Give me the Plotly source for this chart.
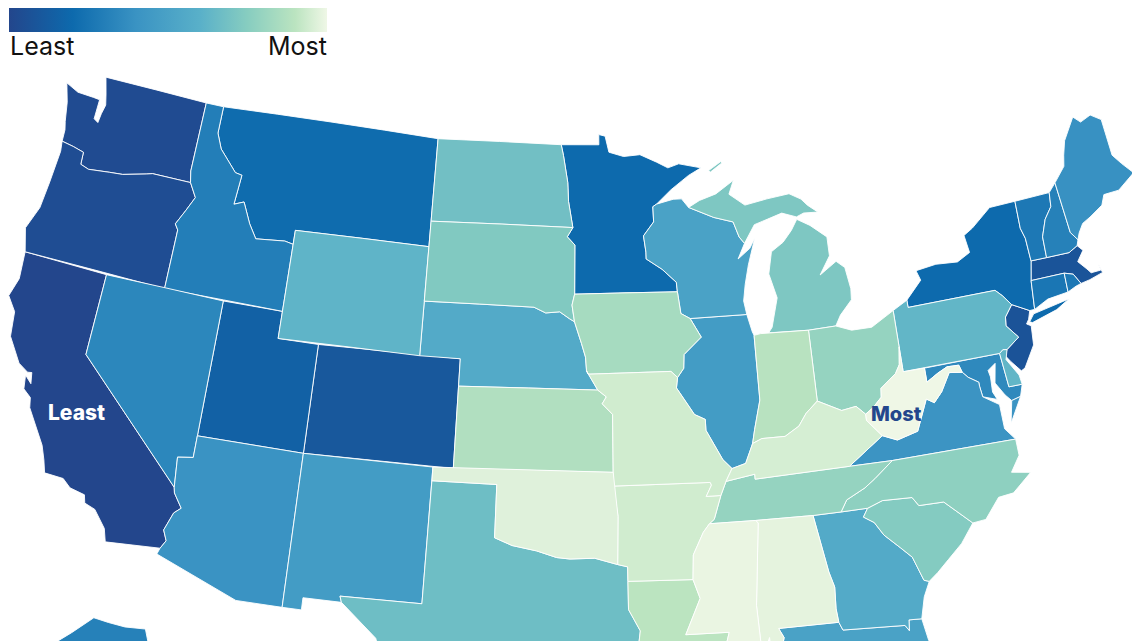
import plotly.graph_objects as go
from plotly.colors import sample_colorscale

# state outlines in lon/lat, no boundary files available offline
WA = [(-124.73,48.38),(-124.0,48.17),(-123.1,48.15),(-122.75,48.13),(-122.75,47.4),(-122.5,47.3),(-122.45,47.65),(-122.35,48.0),(-122.5,48.4),(-122.76,49.0),(-117.03,49.0),(-117.04,46.42),(-116.92,46.0),(-118.98,46.0),(-119.3,45.93),(-120.5,45.7),(-121.2,45.65),(-122.3,45.55),(-122.76,45.65),(-122.8,46.1),(-123.4,46.2),(-124.05,46.27),(-124.08,46.7),(-124.2,47.0),(-124.4,47.7)]
OR = [(-124.05,46.27),(-123.4,46.2),(-122.8,46.1),(-122.76,45.65),(-122.3,45.55),(-121.2,45.65),(-120.5,45.7),(-119.3,45.93),(-118.98,46.0),(-116.92,46.0),(-116.5,45.5),(-116.85,44.95),(-117.22,44.4),(-117.03,44.2),(-117.03,42.0),(-124.21,42.0),(-124.55,42.84),(-124.15,43.7),(-124.05,44.7),(-123.97,45.9)]
CA = [(-124.21,42.0),(-120.0,42.0),(-120.0,39.0),(-114.63,35.0),(-114.57,34.8),(-114.14,34.3),(-114.43,34.08),(-114.72,33.4),(-114.52,33.03),(-114.72,32.72),(-117.13,32.53),(-117.3,33.0),(-117.9,33.6),(-118.4,33.74),(-118.5,34.03),(-119.2,34.15),(-119.6,34.42),(-120.47,34.45),(-120.65,34.9),(-120.9,35.4),(-121.9,36.6),(-122.0,36.96),(-122.4,37.2),(-122.5,37.7),(-122.15,37.45),(-122.25,37.85),(-122.45,37.82),(-122.95,38.05),(-123.7,38.9),(-123.85,39.8),(-124.35,40.3),(-124.1,41.0)]
NV = [(-120.0,42.0),(-114.04,42.0),(-114.04,36.2),(-114.75,36.1),(-114.63,35.0),(-120.0,39.0)]
ID = [(-117.03,49.0),(-116.05,49.0),(-116.05,48.0),(-115.7,47.45),(-114.7,46.7),(-114.33,46.65),(-114.45,45.55),(-113.95,45.7),(-113.45,44.95),(-113.0,44.45),(-111.5,44.55),(-111.05,44.48),(-111.05,42.0),(-117.03,42.0),(-117.03,44.2),(-117.22,44.4),(-116.85,44.95),(-116.5,45.5),(-116.92,46.0),(-117.04,46.42)]
MT = [(-116.05,49.0),(-104.05,49.0),(-104.05,45.0),(-111.05,45.0),(-111.05,44.48),(-111.5,44.55),(-113.0,44.45),(-113.45,44.95),(-113.95,45.7),(-114.45,45.55),(-114.33,46.65),(-114.7,46.7),(-115.7,47.45),(-116.05,48.0)]
WY = [(-111.05,45.0),(-104.05,45.0),(-104.05,41.0),(-111.05,41.0)]
UT = [(-114.04,42.0),(-111.05,42.0),(-111.05,41.0),(-109.05,41.0),(-109.05,37.0),(-114.04,37.0)]
CO = [(-109.05,41.0),(-102.05,41.0),(-102.05,37.0),(-109.05,37.0)]
AZ = [(-114.04,37.0),(-109.05,37.0),(-109.05,31.33),(-111.07,31.33),(-114.81,32.49),(-114.72,32.72),(-114.52,33.03),(-114.72,33.4),(-114.43,34.08),(-114.14,34.3),(-114.57,34.8),(-114.63,35.0),(-114.75,36.1),(-114.04,36.2)]
NM = [(-109.05,37.0),(-103.0,37.0),(-103.04,32.0),(-106.62,32.0),(-106.53,31.78),(-108.21,31.78),(-108.21,31.33),(-109.05,31.33)]
ND = [(-104.05,49.0),(-97.23,49.0),(-97.1,48.6),(-96.85,47.6),(-96.8,46.9),(-96.56,45.94),(-104.05,45.94)]
SD = [(-104.05,45.94),(-96.56,45.94),(-96.85,45.6),(-96.45,45.3),(-96.45,43.5),(-96.58,43.1),(-96.45,42.49),(-96.7,42.6),(-97.2,42.85),(-97.9,42.8),(-98.5,43.0),(-104.05,43.0)]
NE = [(-104.05,43.0),(-98.5,43.0),(-97.9,42.8),(-97.2,42.85),(-96.7,42.6),(-96.45,42.49),(-96.1,41.7),(-95.9,41.2),(-95.85,40.7),(-95.31,40.0),(-102.05,40.0),(-102.05,41.0),(-104.05,41.0)]
KS = [(-102.05,40.0),(-95.31,40.0),(-94.9,39.75),(-95.1,39.5),(-94.61,39.11),(-94.62,37.0),(-102.05,37.0)]
OK = [(-103.0,37.0),(-94.62,37.0),(-94.43,35.4),(-94.48,33.64),(-95.5,33.88),(-96.6,33.85),(-97.2,33.9),(-98.1,34.13),(-99.2,34.3),(-100.0,34.56),(-100.0,36.5),(-103.0,36.5)]
TX = [(-103.0,36.5),(-100.0,36.5),(-100.0,34.56),(-99.2,34.3),(-98.1,34.13),(-97.2,33.9),(-96.6,33.85),(-95.5,33.88),(-94.48,33.64),(-94.04,33.55),(-94.04,33.02),(-94.04,31.99),(-93.55,31.2),(-93.7,30.3),(-93.85,29.7),(-94.7,29.35),(-95.3,28.9),(-96.4,28.35),(-97.2,27.7),(-97.4,27.2),(-97.15,25.96),(-97.6,25.9),(-99.1,26.4),(-99.5,27.5),(-100.3,28.3),(-100.7,29.1),(-101.4,29.77),(-102.4,29.77),(-103.15,28.98),(-104.5,29.65),(-104.9,30.6),(-106.53,31.78),(-106.62,32.0),(-103.04,32.0)]
MN = [(-97.23,49.0),(-95.15,49.0),(-95.15,49.38),(-94.8,49.32),(-94.6,48.72),(-93.8,48.55),(-92.9,48.6),(-92.0,48.3),(-91.4,48.07),(-90.8,48.2),(-89.6,48.0),(-90.3,47.75),(-91.3,47.25),(-92.1,46.75),(-92.3,46.66),(-92.29,46.1),(-92.85,45.6),(-92.75,45.0),(-92.75,44.75),(-91.95,44.35),(-91.25,43.85),(-91.22,43.5),(-96.45,43.5),(-96.45,45.3),(-96.85,45.6),(-96.56,45.94),(-96.8,46.9),(-96.85,47.6),(-97.1,48.6)]
IA = [(-96.45,43.5),(-91.22,43.5),(-91.1,42.7),(-90.65,42.5),(-90.15,41.8),(-91.05,41.2),(-91.1,40.7),(-91.42,40.38),(-91.73,40.61),(-95.77,40.58),(-95.85,40.7),(-95.9,41.2),(-96.1,41.7),(-96.45,42.49),(-96.58,43.1)]
MO = [(-95.77,40.58),(-91.73,40.61),(-91.42,40.38),(-91.5,40.0),(-90.7,39.0),(-90.2,38.8),(-90.2,38.4),(-89.5,37.3),(-89.1,36.95),(-89.42,36.5),(-89.7,36.0),(-90.37,36.0),(-90.1,36.4),(-90.15,36.5),(-94.62,36.5),(-94.62,37.0),(-94.61,39.11),(-95.1,39.5),(-94.9,39.75),(-95.31,40.0),(-95.85,40.7)]
AR = [(-94.62,36.5),(-90.15,36.5),(-90.1,36.4),(-90.37,36.0),(-89.7,36.0),(-90.07,35.15),(-90.3,35.0),(-90.6,34.7),(-91.1,33.9),(-91.17,33.0),(-94.04,33.02),(-94.04,33.55),(-94.48,33.64),(-94.43,35.4)]
LA = [(-94.04,33.02),(-91.17,33.0),(-90.9,32.3),(-91.6,31.0),(-89.73,31.0),(-89.85,30.67),(-89.55,30.18),(-89.4,30.0),(-89.4,29.3),(-89.1,29.1),(-89.9,29.25),(-90.9,29.05),(-91.8,29.5),(-92.6,29.55),(-93.85,29.7),(-93.7,30.3),(-93.55,31.2),(-94.04,31.99)]
MS = [(-90.3,35.0),(-88.2,35.0),(-88.1,34.9),(-88.47,31.9),(-88.4,30.35),(-89.55,30.18),(-89.85,30.67),(-89.73,31.0),(-91.6,31.0),(-90.9,32.3),(-91.17,33.0),(-91.1,33.9),(-90.6,34.7)]
AL = [(-88.2,35.0),(-85.6,34.98),(-85.18,32.87),(-85.0,32.3),(-85.05,31.5),(-85.0,31.0),(-87.6,31.0),(-87.4,30.65),(-87.52,30.28),(-88.0,30.25),(-88.02,30.7),(-88.2,30.35),(-88.4,30.35),(-88.47,31.9),(-88.1,34.9)]
TN = [(-90.3,35.0),(-88.2,35.0),(-85.6,34.98),(-84.32,34.99),(-84.0,35.4),(-83.1,35.75),(-82.6,36.03),(-81.68,36.59),(-83.68,36.6),(-88.07,36.5),(-88.07,36.68),(-89.42,36.5),(-89.7,36.0),(-90.07,35.15)]
KY = [(-89.42,36.5),(-88.07,36.68),(-88.07,36.5),(-83.68,36.6),(-81.97,37.54),(-82.6,38.17),(-82.6,38.4),(-83.0,38.73),(-83.7,38.65),(-84.8,39.1),(-85.4,38.7),(-85.8,38.27),(-86.5,37.95),(-87.6,37.95),(-88.05,37.8),(-88.45,37.1),(-89.1,36.95)]
OH = [(-84.82,41.7),(-83.45,41.73),(-82.7,41.5),(-81.7,41.5),(-80.52,41.98),(-80.52,40.64),(-80.65,40.0),(-80.9,39.7),(-81.7,39.25),(-81.75,38.93),(-82.2,38.6),(-82.6,38.4),(-83.0,38.73),(-83.7,38.65),(-84.8,39.1)]
IN = [(-87.53,41.72),(-87.2,41.76),(-84.82,41.7),(-84.8,39.1),(-85.4,38.7),(-85.8,38.27),(-86.5,37.95),(-87.6,37.95),(-88.05,37.8),(-87.9,38.3),(-87.53,39.35)]
IL = [(-90.65,42.5),(-87.8,42.5),(-87.6,41.85),(-87.53,41.72),(-87.53,39.35),(-87.9,38.3),(-88.05,37.8),(-88.45,37.1),(-89.1,36.95),(-89.5,37.3),(-90.2,38.4),(-90.2,38.8),(-90.7,39.0),(-91.5,40.0),(-91.42,40.38),(-91.1,40.7),(-91.05,41.2),(-90.15,41.8)]
WI = [(-92.3,46.66),(-92.1,46.75),(-91.2,46.9),(-90.75,46.9),(-90.4,46.57),(-89.1,46.14),(-88.1,45.92),(-87.85,45.35),(-87.6,45.1),(-88.0,44.55),(-87.35,44.9),(-87.05,45.25),(-87.5,44.3),(-87.75,43.6),(-87.9,43.0),(-87.8,42.5),(-90.65,42.5),(-91.1,42.7),(-91.22,43.5),(-91.25,43.85),(-91.95,44.35),(-92.75,44.75),(-92.75,45.0),(-92.85,45.6),(-92.29,46.1)]
MI_LOWER = [(-86.8,41.76),(-84.82,41.7),(-83.45,41.73),(-83.15,42.1),(-82.5,42.6),(-82.45,43.0),(-82.6,43.8),(-83.0,44.07),(-83.9,43.65),(-83.3,44.3),(-83.3,45.0),(-84.1,45.5),(-84.75,45.78),(-85.1,45.4),(-85.6,45.0),(-86.25,44.7),(-86.5,43.9),(-86.2,43.0),(-86.6,41.95)]
MI_UPPER = [(-90.4,46.57),(-89.1,46.14),(-88.1,45.92),(-87.85,45.35),(-87.6,45.1),(-87.0,45.75),(-86.3,45.9),(-85.5,46.07),(-84.75,45.87),(-84.35,45.98),(-83.6,45.95),(-84.1,46.25),(-84.4,46.5),(-85.0,46.75),(-86.2,46.65),(-87.4,46.5),(-88.2,46.95),(-87.9,47.45),(-88.9,47.0),(-89.8,46.8)]
MI_ROYALE = [(-89.2,47.88),(-88.5,48.18),(-88.45,48.12),(-89.1,47.82)]
GA = [(-85.6,34.98),(-84.32,34.99),(-83.11,35.0),(-83.35,34.7),(-82.9,34.45),(-82.55,33.95),(-81.9,33.4),(-81.45,33.0),(-81.1,32.1),(-80.88,32.03),(-81.2,31.5),(-81.45,30.72),(-82.0,30.75),(-82.05,30.36),(-82.2,30.57),(-84.86,30.7),(-85.0,31.0),(-85.05,31.5),(-85.0,32.3),(-85.18,32.87)]
FL = [(-87.6,31.0),(-85.0,31.0),(-84.86,30.7),(-82.2,30.57),(-82.05,30.36),(-82.0,30.75),(-81.45,30.72),(-81.3,29.9),(-80.55,28.4),(-80.05,26.9),(-80.15,25.75),(-80.4,25.2),(-81.1,25.15),(-81.8,26.1),(-82.7,27.7),(-82.8,28.9),(-83.6,29.7),(-84.2,30.08),(-85.3,29.68),(-86.3,30.38),(-87.52,30.28),(-87.4,30.65)]
SC = [(-83.35,34.7),(-83.11,35.0),(-82.4,35.2),(-81.05,35.15),(-80.8,34.82),(-79.67,34.8),(-78.55,33.86),(-79.2,33.2),(-79.9,32.7),(-80.45,32.3),(-80.88,32.03),(-81.1,32.1),(-81.45,33.0),(-81.9,33.4),(-82.55,33.95),(-82.9,34.45)]
NC = [(-84.32,34.99),(-83.11,35.0),(-82.4,35.2),(-81.05,35.15),(-80.8,34.82),(-79.67,34.8),(-78.55,33.86),(-77.95,33.9),(-77.2,34.6),(-76.5,34.65),(-75.55,35.25),(-76.4,35.4),(-75.9,35.95),(-75.9,36.55),(-81.68,36.59),(-82.6,36.03),(-83.1,35.75),(-84.0,35.4)]
VA = [(-83.68,36.6),(-81.68,36.59),(-75.9,36.55),(-76.3,37.0),(-76.3,37.55),(-76.3,37.9),(-77.0,38.3),(-77.05,38.7),(-77.05,38.85),(-77.5,39.1),(-77.73,39.32),(-78.35,39.4),(-78.87,38.76),(-79.3,38.42),(-79.65,38.6),(-80.3,37.5),(-81.3,37.3),(-81.97,37.54)]
VA_SHORE = [(-75.95,37.15),(-75.7,37.95),(-75.25,38.03)]
WV = [(-80.52,40.64),(-80.52,39.72),(-79.48,39.72),(-79.48,39.2),(-78.9,39.45),(-78.4,39.62),(-77.83,39.6),(-77.73,39.32),(-78.35,39.4),(-78.87,38.76),(-79.3,38.42),(-79.65,38.6),(-80.3,37.5),(-81.3,37.3),(-81.97,37.54),(-82.6,38.17),(-82.6,38.4),(-82.2,38.6),(-81.75,38.93),(-81.7,39.25),(-80.9,39.7),(-80.65,40.0)]
MD = [(-79.48,39.72),(-75.79,39.72),(-75.69,38.46),(-75.05,38.45),(-75.25,38.03),(-75.7,37.95),(-75.95,38.2),(-76.3,38.7),(-76.1,39.4),(-76.5,39.2),(-76.45,38.95),(-76.5,38.4),(-76.35,38.1),(-77.0,38.3),(-77.05,38.7),(-77.05,38.85),(-77.5,39.1),(-77.73,39.32),(-77.83,39.6),(-78.4,39.62),(-78.9,39.45),(-79.48,39.2)]
DE = [(-75.79,39.72),(-75.6,39.83),(-75.4,39.8),(-75.55,39.45),(-75.1,38.8),(-75.05,38.45),(-75.69,38.46)]
PA = [(-80.52,41.98),(-79.76,42.27),(-79.76,42.0),(-75.35,42.0),(-75.05,41.75),(-74.7,41.36),(-75.13,40.97),(-75.2,40.65),(-74.72,40.15),(-75.4,39.8),(-75.6,39.83),(-75.79,39.72),(-80.52,39.72)]
NJ = [(-74.7,41.36),(-73.9,41.0),(-74.05,40.7),(-74.2,40.55),(-74.0,40.45),(-74.1,39.75),(-74.75,39.0),(-74.95,38.93),(-75.35,39.35),(-75.55,39.6),(-75.4,39.8),(-74.72,40.15),(-75.2,40.65),(-75.13,40.97)]
NY = [(-79.76,42.27),(-79.76,42.0),(-75.35,42.0),(-75.05,41.75),(-74.7,41.36),(-73.9,41.0),(-73.65,41.0),(-73.49,42.05),(-73.26,42.75),(-73.27,43.6),(-73.4,44.0),(-73.34,45.01),(-74.7,45.0),(-75.8,44.4),(-76.3,44.2),(-76.2,43.55),(-76.9,43.3),(-78.0,43.37),(-79.05,43.27),(-78.9,42.9)]
NY_LONG_ISLAND = [(-74.03,40.6),(-73.75,40.85),(-72.5,41.0),(-71.9,41.07),(-72.6,40.8),(-73.9,40.55)]
VT = [(-73.34,45.01),(-71.5,45.01),(-71.6,44.5),(-72.05,44.1),(-72.4,43.5),(-72.46,42.73),(-73.26,42.75),(-73.27,43.6),(-73.4,44.0)]
NH = [(-71.5,45.01),(-71.08,45.3),(-70.98,43.4),(-70.7,43.07),(-70.82,42.87),(-71.3,42.7),(-72.46,42.73),(-72.4,43.5),(-72.05,44.1),(-71.6,44.5)]
ME = [(-71.08,45.3),(-70.4,45.8),(-70.25,46.2),(-70.0,46.7),(-69.23,47.46),(-68.9,47.2),(-68.3,47.35),(-67.8,47.07),(-67.8,45.7),(-67.45,45.3),(-67.0,44.85),(-68.0,44.4),(-68.8,44.4),(-69.05,44.05),(-69.8,43.75),(-70.25,43.6),(-70.55,43.3),(-70.7,43.07),(-70.98,43.4)]
MA = [(-73.49,42.05),(-73.26,42.75),(-72.46,42.73),(-71.3,42.7),(-70.82,42.87),(-70.6,42.65),(-71.0,42.3),(-70.65,41.95),(-70.5,41.78),(-70.0,41.78),(-70.05,42.05),(-69.95,41.68),(-70.65,41.55),(-71.12,41.5),(-71.38,41.9),(-71.8,42.02)]
CT = [(-73.49,42.05),(-71.8,42.02),(-71.85,41.32),(-72.9,41.25),(-73.65,41.0)]
RI = [(-71.8,42.02),(-71.38,41.9),(-71.12,41.5),(-71.4,41.45),(-71.85,41.32)]
AK = [(-141.0,69.65),(-141.0,60.3),(-139.0,60.0),(-137.0,58.9),(-135.0,59.5),(-133.5,58.4),(-130.0,55.9),(-133.0,54.8),(-135.0,56.0),(-136.5,57.7),(-140.0,59.7),(-146.0,60.7),(-149.0,60.0),(-152.0,59.0),(-153.5,58.0),(-157.0,56.3),(-163.0,54.7),(-160.0,58.0),(-157.5,58.8),(-162.0,59.0),(-165.0,60.5),(-166.0,61.7),(-164.0,63.0),(-161.0,64.0),(-166.0,64.6),(-168.0,65.6),(-162.0,66.5),(-166.8,68.3),(-163.0,69.5),(-156.6,71.3),(-152.0,70.8),(-147.0,70.2)]

OUTLINES = {
    'WA': [WA], 'OR': [OR], 'CA': [CA], 'NV': [NV], 'ID': [ID], 'MT': [MT], 'WY': [WY], 'UT': [UT],
    'CO': [CO], 'AZ': [AZ], 'NM': [NM], 'ND': [ND], 'SD': [SD], 'NE': [NE], 'KS': [KS], 'OK': [OK],
    'TX': [TX], 'MN': [MN], 'IA': [IA], 'MO': [MO], 'AR': [AR], 'LA': [LA], 'MS': [MS], 'AL': [AL],
    'TN': [TN], 'KY': [KY], 'OH': [OH], 'IN': [IN], 'IL': [IL], 'WI': [WI], 'MI': [MI_LOWER, MI_UPPER, MI_ROYALE],
    'GA': [GA], 'FL': [FL], 'SC': [SC], 'NC': [NC], 'VA': [VA, VA_SHORE], 'WV': [WV], 'MD': [MD],
    'DE': [DE], 'PA': [PA], 'NJ': [NJ], 'NY': [NY, NY_LONG_ISLAND], 'VT': [VT], 'NH': [NH], 'ME': [ME],
    'MA': [MA], 'CT': [CT], 'RI': [RI], 'AK': [AK],
}

# rank from least (0) to most (1), estimated from the fill colours
states = ['CA','WA','OR','CO','NJ','MA','UT','MN','MT','NY','ID','VT','CT','RI','AK','NH','NV','MD','ME','AZ','VA','NM','IL','WI','FL','GA','NE','WY','DE','PA','TX','MI','ND','SD','SC','NC','OH','TN','IA','KS','IN','LA','AR','MO','KY','OK','AL','MS','WV']
rank = [0.0,0.03,0.04,0.10,0.07,0.08,0.15,0.20,0.21,0.20,0.30,0.27,0.26,0.27,0.31,0.31,0.34,0.35,0.39,0.40,0.41,0.46,0.46,0.50,0.50,0.56,0.56,0.62,0.63,0.63,0.67,0.72,0.68,0.73,0.74,0.77,0.79,0.79,0.84,0.87,0.89,0.90,0.94,0.94,0.95,0.97,0.98,0.99,1.0]

scale_stops = [0.0, 0.2, 0.4, 0.6, 0.75, 0.9, 1.0]
scale_colors = ['#23468c', '#0d6aad', '#3a93c3', '#59b0c9', '#87cdc0', '#bbe4c0', '#eff7e6']
colorscale = [[s, c] for s, c in zip(scale_stops, scale_colors)]

# the page has an 8px body margin, and the figure runs past the window bottom so the map is cut there
PAGE_MARGIN = 8
FIG_W = 1140
FIG_H = 700


def px_x(x):
    return (x - PAGE_MARGIN) / FIG_W


def px_y(y):
    return 1 - (y - PAGE_MARGIN) / FIG_H


def clockwise(ring):
    area = sum(a[0] * b[1] - b[0] * a[1] for a, b in zip(ring, ring[1:] + ring[:1]))
    return ring[::-1] if area > 0 else ring


fig = go.Figure()
for code, value in zip(states, rank):
    color = sample_colorscale(colorscale, [value])[0]
    for ring in OUTLINES[code]:
        ring = clockwise(ring)
        ring = ring + ring[:1]
        fig.add_trace(go.Scattergeo(
            lon=[p[0] for p in ring],
            lat=[p[1] for p in ring],
            mode='lines',
            fill='toself',
            fillcolor=color,
            line=dict(color='white', width=0.9),
            name=code,
            showlegend=False,
            hoverinfo='name',
        ))

# only carries the colour bar
fig.add_trace(go.Scattergeo(
    lon=[-96, -96],
    lat=[38, 38],
    mode='markers',
    showlegend=False,
    hoverinfo='skip',
    marker=dict(
        size=1, opacity=0, color=[0, 1], cmin=0, cmax=1, colorscale=colorscale, showscale=True,
        colorbar=dict(orientation='h', x=px_x(9), xanchor='left', y=px_y(8), yanchor='top',
                      lenmode='pixels', len=318, thicknessmode='pixels', thickness=24,
                      xpad=0, ypad=0, outlinewidth=0, ticks='', showticklabels=False),
    ),
))

fig.update_geos(
    scope='usa',
    projection_type='albers usa',
    projection_scale=1.245,
    center=dict(lon=-96.27, lat=41.17),
    domain=dict(x=[0, 1], y=[0, 1]),
    showland=False, showlakes=False, showcoastlines=False, showsubunits=False,
    showcountries=False, showframe=False, bgcolor='white',
)

fig.add_annotation(text='Least', x=px_x(8), y=px_y(46), xref='paper', yref='paper', xanchor='left',
                   yanchor='middle', showarrow=False, font=dict(family='Inter', size=25, color='#111111'))
fig.add_annotation(text='Most', x=px_x(329), y=px_y(46), xref='paper', yref='paper', xanchor='right',
                   yanchor='middle', showarrow=False, font=dict(family='Inter', size=25, color='#111111'))
fig.add_annotation(text='Least', x=px_x(76), y=px_y(412), xref='paper', yref='paper', xanchor='center',
                   yanchor='middle', showarrow=False, font=dict(family='Inter', size=21, color='white', weight=800))
fig.add_annotation(text='Most', x=px_x(896), y=px_y(414), xref='paper', yref='paper', xanchor='center',
                   yanchor='middle', showarrow=False, font=dict(family='Inter', size=20, color='#23468c', weight=800))

fig.update_layout(width=FIG_W, height=FIG_H, margin=dict(l=0, r=0, t=0, b=0), paper_bgcolor='white')
fig.write_html("out.html")
